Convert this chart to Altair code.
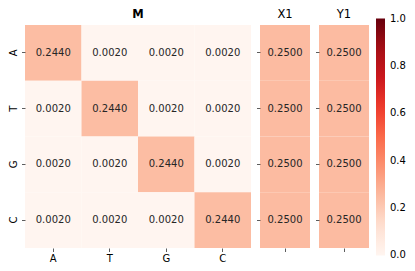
import altair as alt
import pandas as pd

rows = ["A", "T", "G", "C"]
cols = ["A", "T", "G", "C"]
m_values = [
    [0.2440, 0.0020, 0.0020, 0.0020],
    [0.0020, 0.2440, 0.0020, 0.0020],
    [0.0020, 0.0020, 0.2440, 0.0020],
    [0.0020, 0.0020, 0.0020, 0.2440],
]
x1_values = [0.2500, 0.2500, 0.2500, 0.2500]
y1_values = [0.2500, 0.2500, 0.2500, 0.2500]

reds_stops = [0.0, 0.125, 0.25, 0.375, 0.5, 0.625, 0.75, 0.875, 1.0]
reds_colors = ["#fff5f0", "#fee0d2", "#fcbba1", "#fc9272", "#fb6a4a",
               "#ef3b2c", "#cb181d", "#a50f15", "#67000d"]
legend_ticks = [0.0, 0.2, 0.4, 0.6, 0.8, 1.0]

FONT = "DejaVu Sans"

df_m = pd.DataFrame(
    [{"row": r, "col": c, "value": m_values[i][j]}
     for i, r in enumerate(rows) for j, c in enumerate(cols)]
)
df_x1 = pd.DataFrame({"row": rows, "col": [""] * 4, "value": x1_values})
df_y1 = pd.DataFrame({"row": rows, "col": [""] * 4, "value": y1_values})

# keep end labels centred on their positions (Vega shifts labels exactly at the ends)
legend_vals = [min(max(v, 1e-6), 1 - 1e-6) for v in legend_ticks]

color_scale = alt.Scale(domain=reds_stops, range=reds_colors, interpolate="rgb")
legend = alt.Legend(
    title=None, orient="none", legendX=351, legendY=-6.5,
    gradientLength=237, gradientThickness=9, values=legend_vals,
    format=".1f", labelFont=FONT, labelFontSize=10, labelColor="#000",
    labelOffset=5, gradientStrokeWidth=0, labelBaseline="middle",
)

tick_kw = dict(domain=False, tickSize=3.5, tickColor="#333", tickWidth=0.8,
               labelFont=FONT, labelFontSize=10, labelColor="#000",
               title=None)


def panel(df, width, title, show_labels, title_weight):
    xaxis = alt.Axis(labelAngle=0, labels=show_labels, labelPadding=1.5, **tick_kw)
    yaxis = alt.Axis(labelAngle=270, labels=show_labels, labelAlign="center",
                     labelBaseline="bottom", labelPadding=3, **tick_kw)
    base = alt.Chart(df).encode(
        x=alt.X("col:N", sort=cols if show_labels else None, axis=xaxis,
                scale=alt.Scale(paddingInner=0, paddingOuter=0)),
        y=alt.Y("row:N", sort=rows, axis=yaxis,
                scale=alt.Scale(paddingInner=0, paddingOuter=0)),
    )
    rect = base.mark_rect().encode(
        color=alt.Color("value:Q", scale=color_scale, legend=legend)
    )
    text = base.mark_text(font=FONT, fontSize=10, color="#262626").encode(
        text=alt.Text("value:Q", format=".4f")
    )
    return (rect + text).properties(
        width=width, height=223,
        title=alt.TitleParams(title, font=FONT, fontSize=11.5,
                              fontWeight=title_weight, color="#000", offset=5),
    )


chart = alt.hconcat(
    panel(df_m, 226, "M", True, "bold"),
    panel(df_x1, 50, "X1", False, "normal"),
    panel(df_y1, 50, "Y1", False, "normal"),
    spacing=5,
).resolve_scale(x="independent", color="shared").properties(
    padding={"left": 0, "top": 0, "right": 0, "bottom": 0}
).configure_view(stroke=None)

chart.save("out.html", embed_options={"renderer": "svg", "actions": False})
